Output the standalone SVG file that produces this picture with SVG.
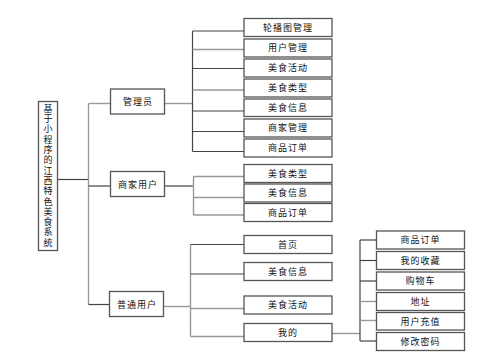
<svg xmlns="http://www.w3.org/2000/svg" width="504" height="364" viewBox="0 0 504 364">
<style>
.b{fill:#fff;stroke:#555;stroke-width:1.3}
.t{font-family:"Noto Sans CJK SC","Liberation Sans",sans-serif;font-size:9px;fill:#111;text-anchor:middle;letter-spacing:1px}
.v{font-family:"Noto Sans CJK SC","Liberation Sans",sans-serif;font-size:9px;fill:#111;text-anchor:middle;letter-spacing:1.3px;writing-mode:vertical-rl}
.l{fill:none;stroke:#444;stroke-width:1.2}
.g{fill:none;stroke:#999;stroke-width:1.4}
</style>
<rect width="504" height="364" fill="#fff"/>
<g id="connectors">
<path class="l" d="M57.5 179.5H88.5"/>
<path class="g" d="M88.5 103.5V304.5"/>
<path class="g" d="M88.5 103.5H110.5"/>
<path class="l" d="M88.5 186H110.5"/>
<path class="l" d="M88.5 304.5H110"/>
<path class="g" d="M164.5 103.5H192.5"/>
<path class="l" d="M192.5 31V151.5"/>
<path class="l" d="M192.5 31H244"/>
<path class="g" d="M192.5 49.5H244"/>
<path class="l" d="M192.5 68.5H244"/>
<path class="g" d="M192.5 90H244"/>
<path class="l" d="M192.5 111H244"/>
<path class="l" d="M192.5 131.5H244"/>
<path class="l" d="M192.5 151.5H244"/>
<path class="l" d="M164.5 186H193.5"/>
<path class="g" d="M193.5 176.5V215"/>
<path class="g" d="M193.5 176.5H244"/>
<path class="g" d="M193.5 197.5H244"/>
<path class="g" d="M193.5 215H244"/>
<path class="g" d="M164 306.5H190.5"/>
<path class="g" d="M190.5 244.5V336.5"/>
<path class="l" d="M190.5 244.5H244"/>
<path class="l" d="M190.5 274H244"/>
<path class="g" d="M190.5 308.5H244"/>
<path class="g" d="M190.5 336.5H244"/>
<path class="g" d="M332 333.5H360"/>
<path class="l" d="M360 240V341"/>
<path class="l" d="M360 240H376.5"/>
<path class="l" d="M360 260.5H376.5"/>
<path class="l" d="M360 281H376.5"/>
<path class="g" d="M360 301.5H376.5"/>
<path class="g" d="M360 320.5H376.5"/>
<path class="l" d="M360 341H376.5"/>
</g>
<g id="root"><rect class="b" x="38.5" y="101.5" width="19" height="149"/>
<text class="v" x="48" y="176">基于小程序的江西特色美食系统</text></g>
<g id="admin"><rect class="b" x="110.5" y="89" width="54" height="25"/><text class="t" x="138" y="105">管理员</text></g>
<g id="merchant"><rect class="b" x="110.5" y="171.5" width="54" height="25"/><text class="t" x="138" y="187.5">商家用户</text></g>
<g id="user"><rect class="b" x="109.5" y="291.5" width="54" height="25"/><text class="t" x="137" y="307.5">普通用户</text></g>
<g id="a1"><rect class="b" x="244" y="18.5" width="88" height="18"/><text class="t" x="288" y="30.5">轮播图管理</text></g>
<g id="a2"><rect class="b" x="244" y="39" width="88" height="18"/><text class="t" x="288" y="51">用户管理</text></g>
<g id="a3"><rect class="b" x="244" y="59" width="88" height="18"/><text class="t" x="288" y="71">美食活动</text></g>
<g id="a4"><rect class="b" x="244" y="79" width="88" height="18"/><text class="t" x="288" y="91">美食类型</text></g>
<g id="a5"><rect class="b" x="244" y="99" width="88" height="17.5"/><text class="t" x="288" y="111">美食信息</text></g>
<g id="a6"><rect class="b" x="244" y="119" width="88" height="18"/><text class="t" x="288" y="131">商家管理</text></g>
<g id="a7"><rect class="b" x="244" y="139" width="88" height="18"/><text class="t" x="288" y="151">商品订单</text></g>
<g id="m1"><rect class="b" x="244" y="164.5" width="88" height="18"/><text class="t" x="288" y="176.5">美食类型</text></g>
<g id="m2"><rect class="b" x="244" y="184" width="88" height="18"/><text class="t" x="288" y="196">美食信息</text></g>
<g id="m3"><rect class="b" x="244" y="203.5" width="88" height="18"/><text class="t" x="288" y="215.5">商品订单</text></g>
<g id="u1"><rect class="b" x="244" y="235.5" width="88" height="18"/><text class="t" x="288" y="247.5">首页</text></g>
<g id="u2"><rect class="b" x="244" y="262.5" width="88" height="18"/><text class="t" x="288" y="274.5">美食信息</text></g>
<g id="u3"><rect class="b" x="244" y="296" width="88" height="18"/><text class="t" x="288" y="308">美食活动</text></g>
<g id="u4"><rect class="b" x="244" y="323.5" width="88" height="18"/><text class="t" x="288" y="335.5">我的</text></g>
<g id="s1"><rect class="b" x="376.5" y="231" width="88" height="18"/><text class="t" x="420.5" y="243">商品订单</text></g>
<g id="s2"><rect class="b" x="376.5" y="251.5" width="88" height="18"/><text class="t" x="420.5" y="263.5">我的收藏</text></g>
<g id="s3"><rect class="b" x="376.5" y="272" width="88" height="18"/><text class="t" x="420.5" y="284">购物车</text></g>
<g id="s4"><rect class="b" x="376.5" y="292.5" width="88" height="18"/><text class="t" x="420.5" y="304.5">地址</text></g>
<g id="s5"><rect class="b" x="376.5" y="312.5" width="88" height="17.5"/><text class="t" x="420.5" y="324.5">用户充值</text></g>
<g id="s6"><rect class="b" x="376.5" y="332.5" width="88" height="18"/><text class="t" x="420.5" y="344.5">修改密码</text></g>
</svg>
